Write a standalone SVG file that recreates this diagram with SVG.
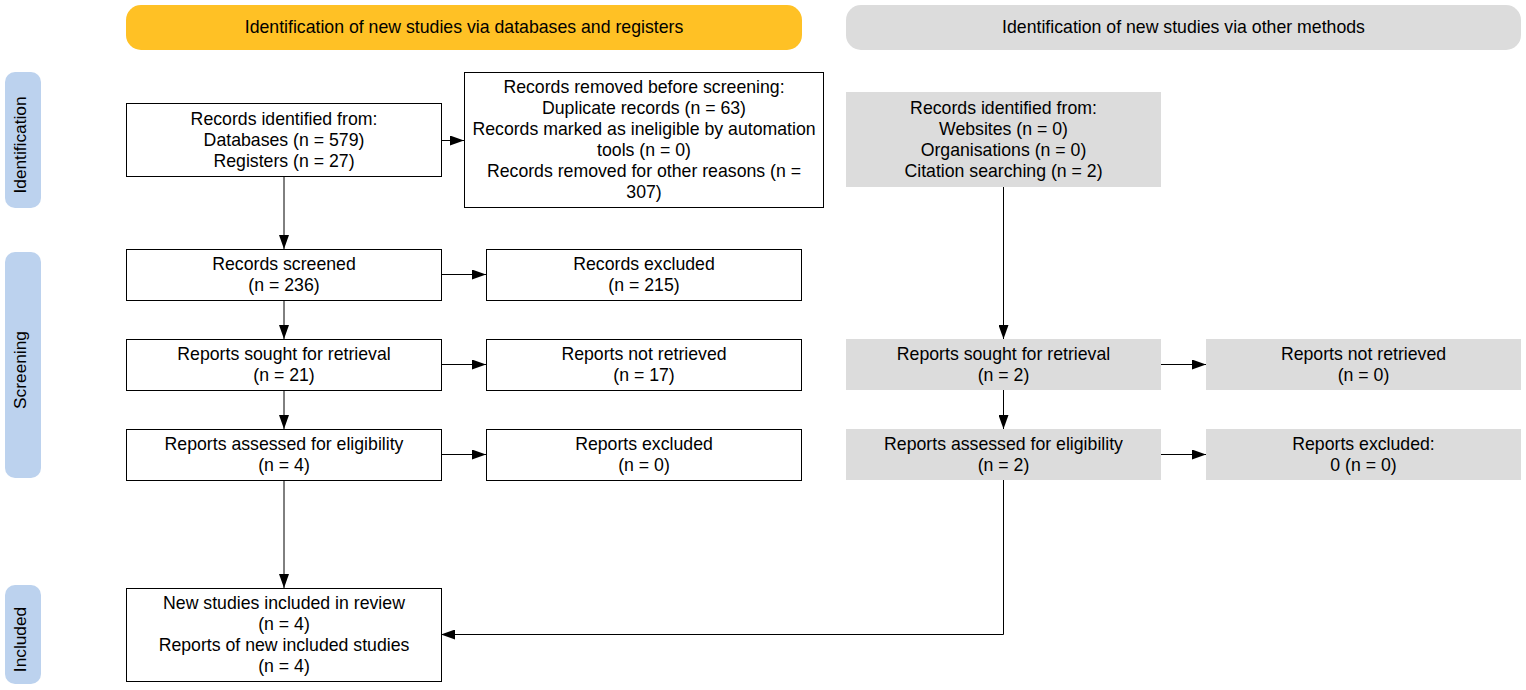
<svg xmlns="http://www.w3.org/2000/svg" width="1526" height="690" viewBox="0 0 1526 690">
<style>
text{font-family:"Liberation Sans",Arial,sans-serif;font-size:17.7px;fill:#000;text-anchor:middle}
.sl{font-size:17.3px}
.box{fill:#fff;stroke:#000;stroke-width:1}
.gbox{fill:#dcdcdc;stroke:none}
.side{fill:#bcd2ee}
.edge{fill:none;stroke:#000;stroke-width:1}
</style>
<defs>
<marker id="ah" markerUnits="userSpaceOnUse" markerWidth="14" markerHeight="10" refX="14" refY="5" orient="auto">
<path d="M0,0 L14,5 L0,10 z" fill="#000"/>
</marker>
</defs>
<rect width="1526" height="690" fill="#fff"/>
<g id="header-databases"><rect x="126" y="5" width="676" height="45" rx="15" fill="#ffc125"/><text x="464" y="33">Identification of new studies via databases and registers</text></g>
<g id="header-other"><rect x="846" y="5" width="675" height="45" rx="15" fill="#dcdcdc"/><text x="1183.5" y="33">Identification of new studies via other methods</text></g>
<g id="side-identification"><rect class="side" x="5" y="72" width="36" height="136" rx="10"/><text class="sl" transform="translate(26,145) rotate(-90)">Identification</text></g>
<g id="side-screening"><rect class="side" x="5" y="252" width="36" height="226" rx="10"/><text class="sl" transform="translate(26,370) rotate(-90)">Screening</text></g>
<g id="side-included"><rect class="side" x="5" y="585" width="36" height="99" rx="10"/><text class="sl" transform="translate(26,639.5) rotate(-90)">Included</text></g>
<g id="records-identified"><rect class="box" x="126.5" y="103.5" width="315" height="73"/><text x="284" y="124.5">Records identified from:</text><text x="284" y="145.5">Databases (n = 579)</text><text x="284" y="166.5">Registers (n = 27)</text></g>
<g id="records-removed"><rect class="box" x="464.5" y="72.5" width="359" height="135"/><text x="644" y="92.5">Records removed before screening:</text><text x="644" y="113.5">Duplicate records (n = 63)</text><text x="644" y="134.5">Records marked as ineligible by automation</text><text x="644" y="155.5">tools (n = 0)</text><text x="644" y="176.5">Records removed for other reasons (n =</text><text x="644" y="197.5">307)</text></g>
<g id="records-screened"><rect class="box" x="126.5" y="249.5" width="315" height="51"/><text x="284" y="269.5">Records screened</text><text x="284" y="290.5">(n = 236)</text></g>
<g id="records-excluded"><rect class="box" x="486.5" y="249.5" width="315" height="51"/><text x="644" y="269.5">Records excluded</text><text x="644" y="290.5">(n = 215)</text></g>
<g id="reports-sought"><rect class="box" x="126.5" y="339.5" width="315" height="51"/><text x="284" y="359.5">Reports sought for retrieval</text><text x="284" y="380.5">(n = 21)</text></g>
<g id="reports-not-retrieved"><rect class="box" x="486.5" y="339.5" width="315" height="51"/><text x="644" y="359.5">Reports not retrieved</text><text x="644" y="380.5">(n = 17)</text></g>
<g id="reports-assessed"><rect class="box" x="126.5" y="429.5" width="315" height="51"/><text x="284" y="449.5">Reports assessed for eligibility</text><text x="284" y="470.5">(n = 4)</text></g>
<g id="reports-excluded"><rect class="box" x="486.5" y="429.5" width="315" height="51"/><text x="644" y="449.5">Reports excluded</text><text x="644" y="470.5">(n = 0)</text></g>
<g id="new-studies"><rect class="box" x="126.5" y="588.5" width="315" height="93"/><text x="284" y="608.5">New studies included in review</text><text x="284" y="629.5">(n = 4)</text><text x="284" y="650.5">Reports of new included studies</text><text x="284" y="671.5">(n = 4)</text></g>
<g id="other-identified"><rect class="gbox" x="846" y="92" width="315" height="95"/><text x="1003.5" y="113.5">Records identified from:</text><text x="1003.5" y="134.5">Websites (n = 0)</text><text x="1003.5" y="155.5">Organisations (n = 0)</text><text x="1003.5" y="176.5">Citation searching (n = 2)</text></g>
<g id="other-sought"><rect class="gbox" x="846" y="339" width="315" height="51"/><text x="1003.5" y="359.5">Reports sought for retrieval</text><text x="1003.5" y="380.5">(n = 2)</text></g>
<g id="other-not-retrieved"><rect class="gbox" x="1206" y="339" width="315" height="51"/><text x="1363.5" y="359.5">Reports not retrieved</text><text x="1363.5" y="380.5">(n = 0)</text></g>
<g id="other-assessed"><rect class="gbox" x="846" y="429" width="315" height="51"/><text x="1003.5" y="449.5">Reports assessed for eligibility</text><text x="1003.5" y="470.5">(n = 2)</text></g>
<g id="other-excluded"><rect class="gbox" x="1206" y="429" width="315" height="51"/><text x="1363.5" y="449.5">Reports excluded:</text><text x="1363.5" y="470.5">0 (n = 0)</text></g>
<g id="connectors">
<path class="edge" d="M441,140.5 H464" marker-end="url(#ah)"/>
<path class="edge" d="M284,177 V249" marker-end="url(#ah)"/>
<path class="edge" d="M441,274.5 H486" marker-end="url(#ah)"/>
<path class="edge" d="M284,300 V339" marker-end="url(#ah)"/>
<path class="edge" d="M441,364.5 H486" marker-end="url(#ah)"/>
<path class="edge" d="M284,390 V429" marker-end="url(#ah)"/>
<path class="edge" d="M441,454.5 H486" marker-end="url(#ah)"/>
<path class="edge" d="M284,480 V588" marker-end="url(#ah)"/>
<path class="edge" d="M1003.5,187 V339" marker-end="url(#ah)"/>
<path class="edge" d="M1161,364.5 H1206" marker-end="url(#ah)"/>
<path class="edge" d="M1003.5,390 V429" marker-end="url(#ah)"/>
<path class="edge" d="M1161,454.5 H1206" marker-end="url(#ah)"/>
<path class="edge" d="M1003.5,480 V634.5 H441" marker-end="url(#ah)"/>
</g>
</svg>
